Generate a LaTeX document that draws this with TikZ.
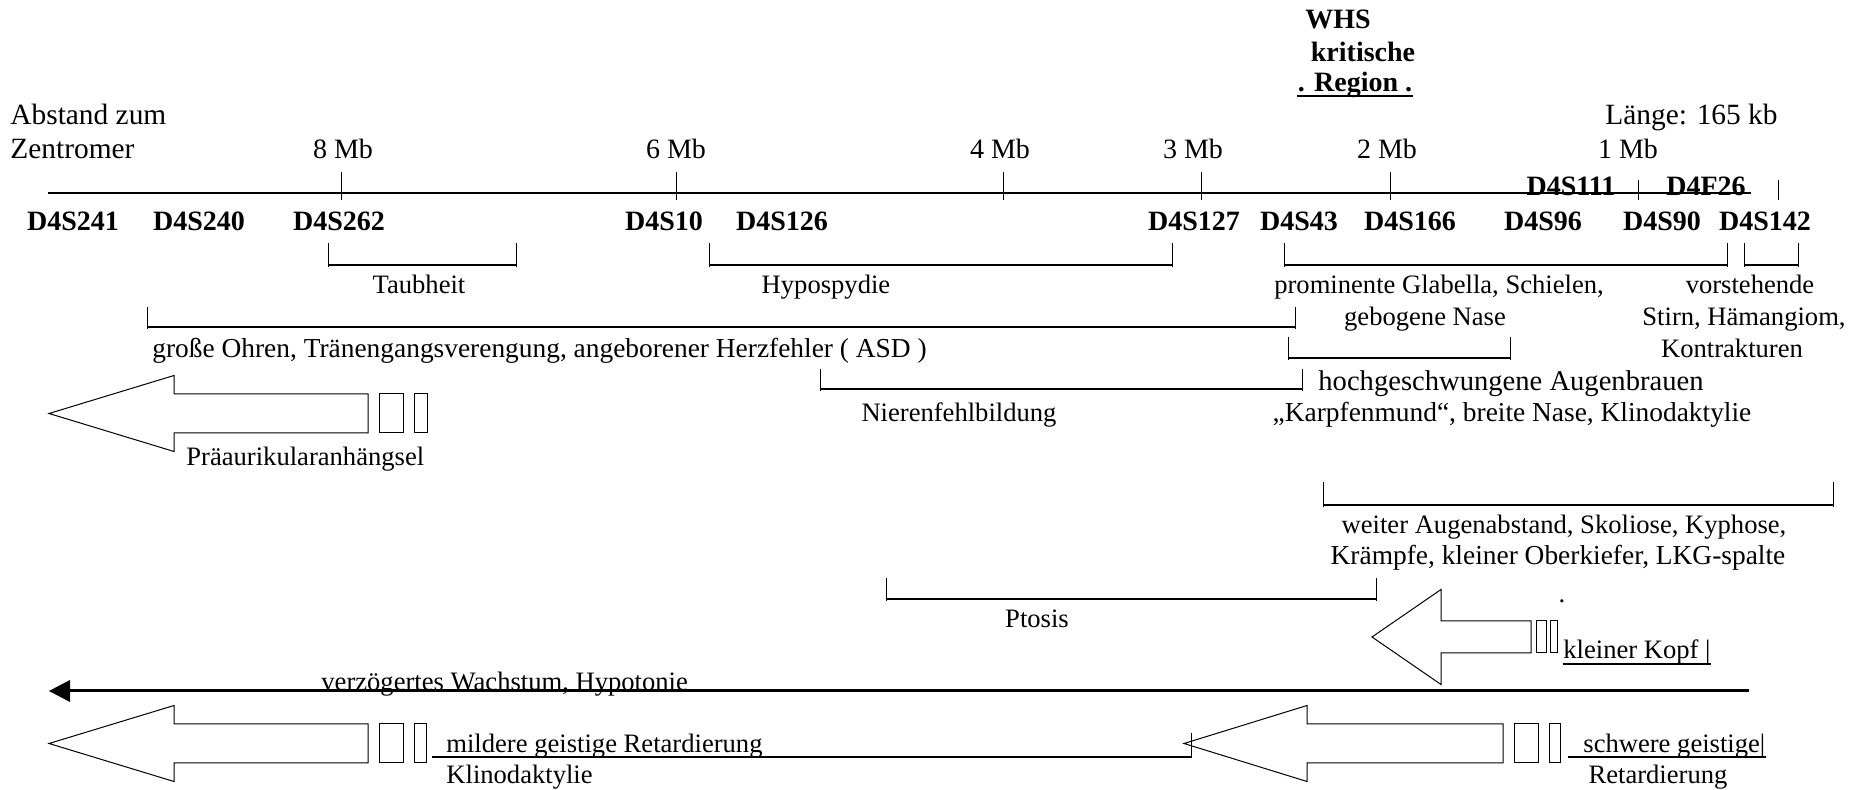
\documentclass[tikz,border=0pt]{standalone}
\usepackage{fontspec}
\setmainfont{Liberation Serif}
\begin{document}
\begin{tikzpicture}[x=0.5pt,y=-0.5pt,
  txt/.style={inner sep=0pt,font=\fontsize{13.3}{16}\selectfont},
  big/.style={inner sep=0pt,font=\fontsize{14.7}{17}\selectfont},
  mbl/.style={inner sep=0pt,font=\fontsize{14}{17}\selectfont},
  mid/.style={inner sep=0pt,font=\fontsize{13.7}{16}\selectfont},
  mk/.style={inner sep=0pt,font=\fontsize{14}{17}\selectfont\bfseries},
  bar/.style={line width=1.2pt},
  tk/.style={line width=0.5pt},
  hollow/.style={line width=0.5pt,line join=miter},
]
\useasboundingbox (0,0) rectangle (1865,790);

% ---------- header ----------
\node[mk,anchor=base] (whs) at (1338,29) {WHS};
\node[mk,anchor=base] (krit) at (1363,62) {kritische};
\node[mk,anchor=base] (reg) at (1355,92) {. Region .};
\draw[line width=0.9pt] (reg.west |- 0,96) -- (reg.east |- 0,96);

\node[big,anchor=base west] (abst) at (10,125) {Abstand zum};
\node[big,anchor=base west] (zent) at (10,159) {Zentromer};
\node[big,anchor=base east] (laenge) at (1778,125) {Länge: 165 kb};

\node[mbl,anchor=base] (mb8) at (343,159) {8 Mb};
\node[mbl,anchor=base] (mb6) at (676,159) {6 Mb};
\node[mbl,anchor=base] (mb4) at (1000,159) {4 Mb};
\node[mbl,anchor=base] (mb3) at (1193,159) {3 Mb};
\node[mbl,anchor=base] (mb2) at (1387,159) {2 Mb};
\node[mbl,anchor=base] (mb1) at (1628,159) {1 Mb};

% markers above the line
\node[mk,anchor=base] (d111) at (1571,196) {D4S111};
\node[mk,anchor=base] (df26) at (1706,196) {D4F26};

% ---------- chromosome line ----------
\coordinate (cL) at (48,193);
\coordinate (cR) at (1751,193);
\draw[bar] (cL) -- (cR);
\foreach \x in {341,676,1003,1201,1390} \draw[tk] (\x,172) -- (\x,200);
\foreach \x in {1638,1778} \draw[tk] (\x,180) -- (\x,200);

% markers below the line
\node[mk,anchor=base] (m1) at (73,231) {D4S241};
\node[mk,anchor=base] (m2) at (199,231) {D4S240};
\node[mk,anchor=base] (m3) at (339,231) {D4S262};
\node[mk,anchor=base] (m4) at (664,231) {D4S10};
\node[mk,anchor=base] (m5) at (782,231) {D4S126};
\node[mk,anchor=base] (m6) at (1194,231) {D4S127};
\node[mk,anchor=base] (m7) at (1299,231) {D4S43};
\node[mk,anchor=base] (m8) at (1410,231) {D4S166};
\node[mk,anchor=base] (m9) at (1543,231) {D4S96};
\node[mk,anchor=base] (m10) at (1662,231) {D4S90};
\node[mk,anchor=base] (m11) at (1765,231) {D4S142};

% ---------- brackets ----------
\newcommand{\brk}[4]{%
  \draw[tk] (#1,#3) -- (#1,#4+2);
  \draw[tk] (#2,#3) -- (#2,#4+2);
  \draw[bar] (#1,#4) -- (#2,#4);}
\brk{328}{516}{243}{265}
\brk{709}{1172}{243}{265}
\brk{1284}{1727}{243}{265}
\brk{1744}{1798}{243}{265}
\brk{147}{1295}{307}{327}
\brk{1288}{1510}{337}{358}
\brk{820}{1302}{369}{389}
\brk{1323}{1833}{482}{505}
\brk{886}{1376}{578}{599}

% ---------- texts ----------
\node[txt,anchor=base] (taub) at (419,294) {Taubheit};
\node[txt,anchor=base] (hypo) at (826,294) {Hypospydie};
\node[txt,anchor=base] (glab) at (1439,294) {prominente Glabella, Schielen,};
\node[txt,anchor=base] (vors) at (1750,294) {vorstehende};
\node[txt,anchor=base] (nase) at (1425,326) {gebogene Nase};
\node[txt,anchor=base] (stirn) at (1744,326) {Stirn, Hämangiom,};
\node[mid,anchor=base west] (ohren) at (152,358) {große Ohren, Tränengangsverengung, angeborener Herzfehler ( ASD )};
\node[txt,anchor=base] (kontr) at (1732,358) {Kontrakturen};
\node[inner sep=0pt,font=\fontsize{14.3}{17}\selectfont,anchor=base west] (hoch) at (1318,391) {hochgeschwungene Augenbrauen};
\node[txt,anchor=base] (niere) at (959,422) {Nierenfehlbildung};
\node[mid,anchor=base] (karpf) at (1512,422) {„Karpfenmund“, breite Nase, Klinodaktylie};
\node[txt,anchor=base west] (praeau) at (186,466) {Präaurikularanhängsel};
\node[txt,anchor=base] (weiter) at (1564,534) {weiter Augenabstand, Skoliose, Kyphose,};
\node[mid,anchor=base] (kraempfe) at (1558,565) {Krämpfe, kleiner Oberkiefer, LKG-spalte};
\node[txt,anchor=base] (dot) at (1562,603) {.};
\node[txt,anchor=base] (ptosis) at (1037,628) {Ptosis};
\node[txt,anchor=base west] (kopf) at (1563,659) {kleiner Kopf |};
\draw[line width=0.8pt] ([yshift=-2.5pt]kopf.base west) -- ([yshift=-2.5pt]kopf.base east);

% ---------- hollow arrows ----------
% Praeaurikularanhaengsel
\draw[hollow] (49,413.5) -- (174,375.5) -- (174,394) -- (368,394) -- (368,433) -- (174,433) -- (174,451.5) -- cycle;
\draw[hollow] (379,394) rectangle (403,433);
\draw[hollow] (414,394) rectangle (427,433);
% kleiner Kopf
\draw[hollow] (1372,637) -- (1441,589.5) -- (1441,621) -- (1531,621) -- (1531,653) -- (1441,653) -- (1441,684.5) -- cycle;
\draw[hollow] (1536,621) rectangle (1546,653);
\draw[hollow] (1550,621) rectangle (1557,653);
% mildere
\draw[hollow] (49,743.5) -- (174,705.5) -- (174,724) -- (368,724) -- (368,763) -- (174,763) -- (174,781.5) -- cycle;
\draw[hollow] (379,724) rectangle (403,763);
\draw[hollow] (414,724) rectangle (426,763);
% schwere
\draw[hollow] (1184,743.5) -- (1307,705.5) -- (1307,724) -- (1503,724) -- (1503,763) -- (1307,763) -- (1307,781.5) -- cycle;
\draw[hollow] (1514,724) rectangle (1538,763);
\draw[hollow] (1549,724) rectangle (1560,763);

% ---------- long arrow ----------
\node[txt,anchor=base west] (wachs) at (321,691) {verzögertes Wachstum, Hypotonie};
\coordinate (aR) at (1749,691);
\coordinate (aL) at (66,691);
\draw[line width=1.5pt] (aR) -- (aL);
\fill (49,691) -- (70,680) -- (70,702) -- cycle;

% ---------- bottom texts ----------
\node[txt,anchor=base west] (milde) at (446,753) {mildere geistige Retardierung};
\node[txt,anchor=base west] (klino) at (446,784) {Klinodaktylie};
\coordinate (mL) at (432,757);
\coordinate (mR) at (1191,757);
\draw[bar] (mL) -- (mR);
\draw[tk] (1191,733) -- (1191,758);

\node[txt,anchor=base west] (schwer) at (1583,753) {schwere geistige|};
\draw[line width=0.8pt] (1568,757) -- (schwer.base east |- 0,757);
\node[txt,anchor=base] (retard) at (1658,784) {Retardierung};
\end{tikzpicture}
\end{document}
